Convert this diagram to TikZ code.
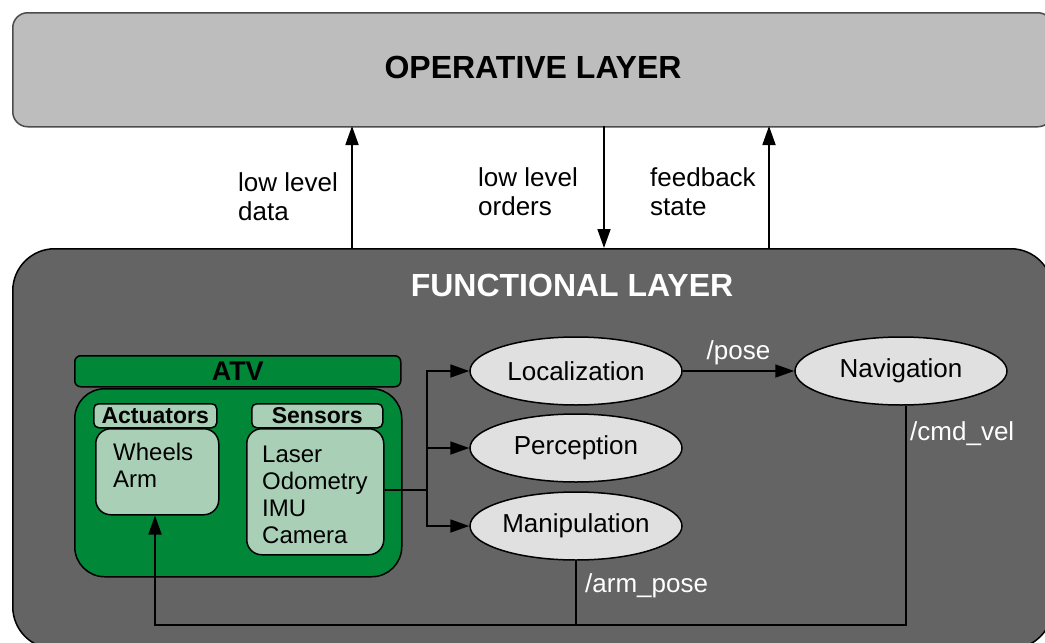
\documentclass[tikz,border=0pt]{standalone}
\usepackage{fontspec}
\setmainfont{Liberation Sans}
\usetikzlibrary{arrows.meta,shapes.geometric}
\definecolor{opgray}{HTML}{BDBDBD}
\definecolor{fungray}{HTML}{646464}
\definecolor{ellgray}{HTML}{E0E0E0}
\definecolor{atvgreen}{HTML}{008738}
\definecolor{lightgreen}{HTML}{A9CFB6}
\tikzset{
  layerbox/.style={draw=black!70, line width=1.5pt},
  greenbox/.style={draw=black, line width=1.5pt, fill=atvgreen},
  lightbox/.style={draw=black, line width=1.5pt, fill=lightgreen},
  ell/.style={ellipse, draw=black, line width=1.5pt, fill=ellgray, minimum width=212pt, minimum height=68pt, inner sep=0pt, font=\fontsize{26}{30}\selectfont},
  lbl/.style={align=left, anchor=north west, inner sep=0pt, font=\fontsize{26}{29}\selectfont},
  conn/.style={line width=1.8pt, -{Triangle[length=19pt,width=13pt]}},
  plain/.style={line width=1.8pt}
}
\begin{document}
\begin{tikzpicture}[x=1pt,y=-1pt]
\useasboundingbox (0,0) rectangle (1045,643);
\clip (0,0) rectangle (1045,643);
\fill[white] (0,0) rectangle (1045,643);
% operative layer
\node[layerbox, fill=opgray, rounded corners=15pt, minimum width=1040pt, minimum height=114pt, anchor=north west, inner sep=0pt] (op) at (12,12) {};
\node[font=\fontsize{32}{36}\selectfont\bfseries] (optitle) at (533,67) {OPERATIVE LAYER};
% functional layer
\node[draw=black, line width=1.5pt, fill=fungray, rounded corners=42pt, minimum width=1040pt, minimum height=400pt, anchor=north west, inner sep=0pt] (fun) at (12,248) {};
\node[font=\fontsize{32}{36}\selectfont\bfseries, text=white] (funtitle) at (572,285) {FUNCTIONAL LAYER};
% layer arrows
\coordinate (a1b) at (352,248); \coordinate (a1t) at (352,126);
\coordinate (a2b) at (604,248); \coordinate (a2t) at (604,126);
\coordinate (a3b) at (769,248); \coordinate (a3t) at (769,126);
\draw[conn] (a1b) -- (a1t);
\draw[conn] (a2t) -- (a2b);
\draw[conn] (a3b) -- (a3t);
\node[lbl] (l1) at (238,172) {low level\\data};
\node[lbl] (l2) at (478,167) {low level\\orders};
\node[lbl] (l3) at (650,167) {feedback\\state};
% ATV
\node[greenbox, rounded corners=6pt, minimum width=326pt, minimum height=31pt, anchor=north west, inner sep=0pt, font=\fontsize{27}{30}\selectfont\bfseries] (atvh) at (74,355) {ATV};
\node[greenbox, rounded corners=30pt, minimum width=327pt, minimum height=188pt, anchor=north west, inner sep=0pt] (atv) at (74,388) {};
\node[lightbox, rounded corners=5pt, minimum width=123pt, minimum height=24pt, anchor=north west, inner sep=0pt, font=\fontsize{23}{26}\selectfont\bfseries] (acth) at (93,403) {Actuators};
\node[lightbox, rounded corners=15pt, minimum width=123pt, minimum height=86pt, anchor=north west, inner sep=0pt] (act) at (95,428) {};
\node[lbl, font=\fontsize{24}{27}\selectfont] (acttxt) at (113,443) {Wheels\\Arm};
\node[lightbox, rounded corners=5pt, minimum width=131pt, minimum height=24pt, anchor=north west, inner sep=0pt, font=\fontsize{23}{26}\selectfont\bfseries] (senh) at (251,403) {Sensors};
\node[lightbox, rounded corners=15pt, minimum width=137pt, minimum height=126pt, anchor=north west, inner sep=0pt] (sen) at (246,428) {};
\node[lbl, font=\fontsize{24}{27}\selectfont] (sentxt) at (262,446) {Laser\\Odometry\\IMU\\Camera};
% ellipses
\node[ell] (loc) at (576,371) {Localization};
\node[ell] (per) at (576,448) {Perception};
\node[ell] (man) at (576,526) {Manipulation};
\node[ell] (nav) at (901,371) {Navigation};
% sensors to modules
\coordinate (split) at (427,490);
\draw[plain] (sen.east |- split) -- (split);
\draw[conn] (split) |- (loc.west);
\draw[conn] (split) -- (427,448) -- (per.west);
\draw[conn] (split) |- (man.west);
% pose
\draw[conn] (loc.east) -- (nav.west) node[midway, above=2pt, font=\fontsize{26}{30}\selectfont, text=white] (pose) {/pose};
% feedback to actuators
\coordinate (bl) at (155,625);
\coordinate (br) at (906,625);
\draw[plain] (nav.south -| br) -- (br) -- (man.south |- br);
\draw[plain] (man.south) -- (man.south |- br);
\draw[conn] (man.south |- br) -- (bl) -- (act.south -| bl);
\node[lbl, text=white] (cmd) at (910,421) {/cmd\_vel};
\node[lbl, text=white] (arm) at (585,573) {/arm\_pose};
\end{tikzpicture}
\end{document}
